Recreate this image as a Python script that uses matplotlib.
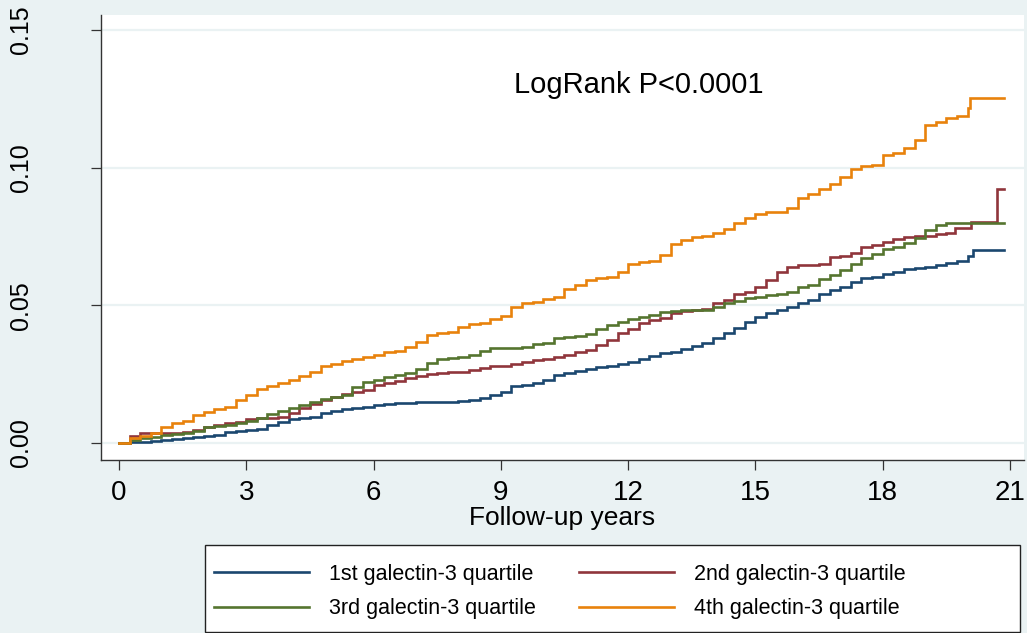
import matplotlib
matplotlib.use("Agg")
import matplotlib.pyplot as plt
from matplotlib.patches import Rectangle

plt.rcParams['font.family'] = ['Liberation Sans', 'DejaVu Sans']

# ---- data (cumulative incidence by follow-up year) ----
quarter_years = [0, 0.25, 0.5, 0.75, 1, 1.25, 1.5, 1.75, 2, 2.25, 2.5, 2.75, 3, 3.25, 3.5,
                 3.75, 4, 4.25, 4.5, 4.75, 5, 5.25, 5.5, 5.75, 6, 6.25, 6.5, 6.75, 7, 7.25,
                 7.5, 7.75, 8, 8.25, 8.5, 8.75, 9, 9.25, 9.5, 9.75, 10, 10.25, 10.5, 10.75,
                 11, 11.25, 11.5, 11.75, 12, 12.25, 12.5, 12.75, 13, 13.25, 13.5, 13.75, 14,
                 14.25, 14.5, 14.75, 15, 15.25, 15.5, 15.75, 16, 16.25, 16.5, 16.75, 17,
                 17.25, 17.5, 17.75, 18, 18.25, 18.5, 18.75, 19, 19.25, 19.5, 19.75, 20]

q1_t = quarter_years + [20.13, 20.86]
q1_v = [0, 0.0003, 0.0005, 0.0008, 0.0011, 0.0013, 0.0017, 0.0023, 0.0025, 0.0029, 0.0041,
        0.0045, 0.0047, 0.0050, 0.0065, 0.0077, 0.0086, 0.0090, 0.0096, 0.0108, 0.0117,
        0.0122, 0.0128, 0.0132, 0.0138, 0.0142, 0.0144, 0.0146, 0.0149, 0.0149, 0.0150,
        0.0150, 0.0154, 0.0156, 0.0162, 0.0174, 0.0186, 0.0207, 0.0211, 0.0217, 0.0229,
        0.0247, 0.0255, 0.0263, 0.0268, 0.0275, 0.0280, 0.0287, 0.0295, 0.0304, 0.0316,
        0.0325, 0.0332, 0.0340, 0.0352, 0.0362, 0.0380, 0.0398, 0.0416, 0.0440, 0.0459,
        0.0473, 0.0483, 0.0493, 0.0507, 0.0519, 0.0541, 0.0556, 0.0567, 0.0586, 0.0598,
        0.0604, 0.0614, 0.0622, 0.0631, 0.0634, 0.0640, 0.0646, 0.0655, 0.0662, 0.0679,
        0.0701, 0.0701]

q2_t = quarter_years[:79] + [19.7, 20.07, 20.69, 20.86]
q2_v = [0, 0.0025, 0.0035, 0.0035, 0.0035, 0.0037, 0.0041, 0.0047, 0.0059, 0.0065, 0.0074,
        0.0077, 0.0086, 0.0090, 0.0090, 0.0096, 0.0110, 0.0126, 0.0142, 0.0156, 0.0166,
        0.0178, 0.0186, 0.0192, 0.0211, 0.0217, 0.0226, 0.0235, 0.0243, 0.0250, 0.0255,
        0.0257, 0.0259, 0.0265, 0.0271, 0.0280, 0.0280, 0.0287, 0.0295, 0.0301, 0.0304,
        0.0313, 0.0320, 0.0332, 0.0338, 0.0356, 0.0374, 0.0400, 0.0413, 0.0435, 0.0447,
        0.0453, 0.0471, 0.0480, 0.0483, 0.0486, 0.0507, 0.0519, 0.0541, 0.0549, 0.0565,
        0.0592, 0.0622, 0.0640, 0.0646, 0.0646, 0.0650, 0.0677, 0.0679, 0.0691, 0.0713,
        0.0719, 0.0731, 0.0740, 0.0749, 0.0753, 0.0753, 0.0759, 0.0762,
        0.0780, 0.0804, 0.0922, 0.0922]

q3_t = quarter_years[:79] + [20.86]
q3_v = [0, 0.0011, 0.0017, 0.0023, 0.0029, 0.0033, 0.0037, 0.0045, 0.0057, 0.0062, 0.0065,
        0.0071, 0.0080, 0.0089, 0.0105, 0.0117, 0.0126, 0.0138, 0.0150, 0.0159, 0.0168,
        0.0174, 0.0204, 0.0223, 0.0229, 0.0239, 0.0247, 0.0255, 0.0268, 0.0292, 0.0304,
        0.0307, 0.0313, 0.0320, 0.0335, 0.0344, 0.0344, 0.0344, 0.0347, 0.0359, 0.0364,
        0.0380, 0.0384, 0.0389, 0.0396, 0.0413, 0.0428, 0.0440, 0.0449, 0.0456, 0.0465,
        0.0477, 0.0481, 0.0483, 0.0483, 0.0483, 0.0495, 0.0509, 0.0517, 0.0525, 0.0531,
        0.0537, 0.0541, 0.0549, 0.0567, 0.0574, 0.0594, 0.0610, 0.0628, 0.0650, 0.0670,
        0.0686, 0.0703, 0.0713, 0.0725, 0.0743, 0.0773, 0.0792, 0.0800,
        0.0800]

q4_t = quarter_years + [20.05, 20.86]
q4_v = [0, 0.0017, 0.0025, 0.0035, 0.0059, 0.0074, 0.0080, 0.0102, 0.0114, 0.0122, 0.0132,
        0.0156, 0.0175, 0.0195, 0.0208, 0.0217, 0.0229, 0.0243, 0.0259, 0.0280, 0.0287,
        0.0299, 0.0304, 0.0313, 0.0320, 0.0332, 0.0335, 0.0347, 0.0368, 0.0392, 0.0398,
        0.0404, 0.0422, 0.0431, 0.0435, 0.0449, 0.0461, 0.0495, 0.0507, 0.0513, 0.0522,
        0.0531, 0.0558, 0.0574, 0.0592, 0.0600, 0.0604, 0.0622, 0.0650, 0.0658, 0.0662,
        0.0683, 0.0723, 0.0737, 0.0747, 0.0752, 0.0761, 0.0776, 0.0798, 0.0816, 0.0832,
        0.0839, 0.0840, 0.0852, 0.0889, 0.0904, 0.0921, 0.0940, 0.0965, 0.0994, 0.1006,
        0.1009, 0.1046, 0.1054, 0.1070, 0.1100, 0.1155, 0.1167, 0.1179, 0.1189, 0.1215,
        0.1252, 0.1252]

labels = ["1st galectin-3 quartile", "2nd galectin-3 quartile",
          "3rd galectin-3 quartile", "4th galectin-3 quartile"]
colors = ["#1A476F", "#90353B", "#55752F", "#E8820C"]
x_ticks = [0, 3, 6, 9, 12, 15, 18, 21]
y_ticks = [0.00, 0.05, 0.10, 0.15]
annotation = "LogRank P<0.0001"

# ---- figure ----
W, H = 1027, 633
bg = "#EAF2F3"
fig = plt.figure(figsize=(W / 100, H / 100), dpi=100, facecolor=bg)
ax = fig.add_axes([101 / W, (H - 460) / H, (1024 - 101) / W, (460 - 15) / H])
ax.set_facecolor("white")

series = [(q1_t, q1_v), (q2_t, q2_v), (q3_t, q3_v), (q4_t, q4_v)]
handles = []
for (t, v), c, lab in zip(series, colors, labels):
    h, = ax.plot(t, v, drawstyle="steps-post", color=c, lw=1.9, label=lab,
                 solid_joinstyle="miter", zorder=3)
    handles.append(h)

ax.set_xlim(-0.424, 21.33)
ax.set_ylim(-0.00617, 0.1554)
ax.set_xticks(x_ticks)
ax.set_yticks(y_ticks)
ax.set_xticklabels([str(x) for x in x_ticks])
ax.set_yticklabels([f"{y:.2f}" for y in y_ticks])
ax.grid(axis="y", color=bg, lw=1.6, zorder=0)
ax.set_axisbelow(True)

for s in ["top", "right"]:
    ax.spines[s].set_visible(False)
for s in ["left", "bottom"]:
    ax.spines[s].set_color("#333333")
    ax.spines[s].set_linewidth(1.0)

ax.tick_params(axis="x", direction="out", length=7.5, width=0.9, color="#333333",
               labelsize=20, pad=7)
ax.tick_params(axis="y", direction="out", length=7.5, width=0.9, color="#333333",
               labelsize=18, pad=50, labelrotation=90)
for lab in ax.get_yticklabels():
    lab.set_va("center")
    lab.set_ha("center")

ax.set_xlabel("Follow-up years", fontsize=19, labelpad=0)

ax.text(12.26, 0.130, annotation, fontsize=21, ha="center", va="center")

# legend frame
fig.patches.append(Rectangle((205 / W, (H - 632) / H), (1020 - 205) / W, (632 - 545) / H,
                             transform=fig.transFigure, facecolor="white",
                             edgecolor="#222222", lw=1.0, zorder=0))
order = [0, 2, 1, 3]
leg = fig.legend(handles=[handles[i] for i in order], labels=[labels[i] for i in order],
                 loc="upper left", bbox_to_anchor=(214 / W, (H - 564) / H), ncol=2,
                 frameon=False, fontsize=15.5, handlelength=4.4, handletextpad=0.95,
                 columnspacing=2.0, labelspacing=0.62, borderpad=0, borderaxespad=0)

fig.savefig("out.png", dpi=100, facecolor=bg)
